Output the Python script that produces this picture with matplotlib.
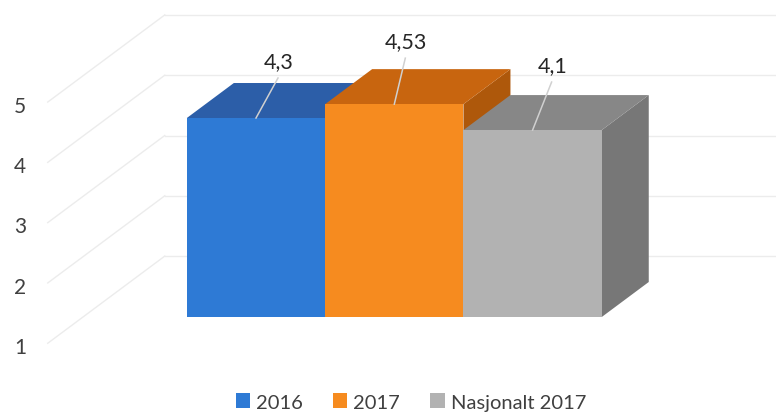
import matplotlib
matplotlib.use("Agg")
import matplotlib.pyplot as plt
from matplotlib.patches import Polygon, Patch

# ---------------- data ----------------
categories = ["2016", "2017", "Nasjonalt 2017"]
values = [4.3, 4.53, 4.1]
value_labels = ["4,3", "4,53", "4,1"]
y_ticks = [1, 2, 3, 4, 5]
axis_min = 1

# ---------------- style ----------------
front_colors = ["#2E7AD5", "#F68B1F", "#B2B2B2"]
top_colors = ["#2C5EA8", "#C8650F", "#878787"]
side_colors = ["#23508F", "#AE580B", "#777777"]
grid_color = "#ececec"
font = ["Lato", "DejaVu Sans"]
plt.rcParams["font.family"] = font

W, H = 776, 414
fig = plt.figure(figsize=(W / 100, H / 100), dpi=100)
ax = fig.add_axes([0, 0, 1, 1])

# layout in pixel units -> data scale
PX_X = 138.3     # px per category unit (bar width = 1)
PX_Y = 60.3      # px per value unit on the bar front plane
x0_px = 256      # pixel centre of first bar
base_px = 318    # pixel row of axis_min at bar front
ax.set_xlim(-x0_px / PX_X, (W - x0_px) / PX_X)
ax.set_ylim(axis_min - (H - base_px) / PX_Y, axis_min + base_px / PX_Y)
ax.axis("off")

DX = 47 / PX_X   # oblique depth offset (per unit of bar depth)
DY = 35 / PX_Y
wall_depth = 1.74
front_depth = -0.75
wall_x0 = (83 - x0_px) / PX_X   # left wall x at depth 0
xmax = ax.get_xlim()[1]

# gridlines: left wall diagonals + back wall horizontals
for v in y_ticks:
    xb, yb = wall_x0 + DX * wall_depth, v + DY * wall_depth
    xf, yf = wall_x0 + DX * front_depth, v + DY * front_depth
    ax.plot([xf, xb], [yf, yb], color=grid_color, lw=1.0, zorder=1)
    ax.plot([xb, xmax], [yb, yb], color=grid_color, lw=1.0, zorder=1)
    ax.text((20 - x0_px) / PX_X, v - DY * 0.86, str(v), ha="center", va="center",
            fontsize=15, color="#404040", zorder=2)

# bars (front faces via bar, tops/sides as oblique polygons)
xs = list(range(len(categories)))
for i, (x, v) in enumerate(zip(xs, values)):
    l, r = x - 0.5, x + 0.5
    side = Polygon([(r, axis_min), (r + DX, axis_min + DY), (r + DX, v + DY), (r, v)],
                   closed=True, facecolor=side_colors[i], edgecolor="none", zorder=3 + i * 3)
    top = Polygon([(l, v), (l + DX, v + DY), (r + DX, v + DY), (r, v)],
                  closed=True, facecolor=top_colors[i], edgecolor="none", zorder=4 + i * 3)
    ax.add_patch(side)
    ax.add_patch(top)
    ax.bar(x, v - axis_min, bottom=axis_min, width=1.0, color=front_colors[i],
           edgecolor="none", zorder=5 + i * 3)

# data labels with leader lines
label_off = [(23, 57), (12, 63), (20, 65)]   # px offsets (right, up) of label centre
for i, (x, v) in enumerate(zip(xs, values)):
    ox, oy = label_off[i]
    lx, ly = x + ox / PX_X, v + oy / PX_Y
    ax.plot([x, lx - 1 / PX_X], [v, ly - 17 / PX_Y], color="#d0d0d0", lw=1.1, zorder=20)
    ax.text(lx, ly, value_labels[i], ha="center", va="center", fontsize=15.5,
            color="#262626", zorder=21)

# legend
handles = [Patch(facecolor=c, edgecolor="none") for c in front_colors]
leg = fig.legend(handles, categories, loc="center", bbox_to_anchor=(411 / W, 1 - 403 / H),
                 ncol=3, frameon=False, fontsize=14.5, handlelength=0.7, handleheight=0.7,
                 handletextpad=0.3, columnspacing=1.5)
for t in leg.get_texts():
    t.set_color("#404040")

fig.savefig("out.png", dpi=100)
